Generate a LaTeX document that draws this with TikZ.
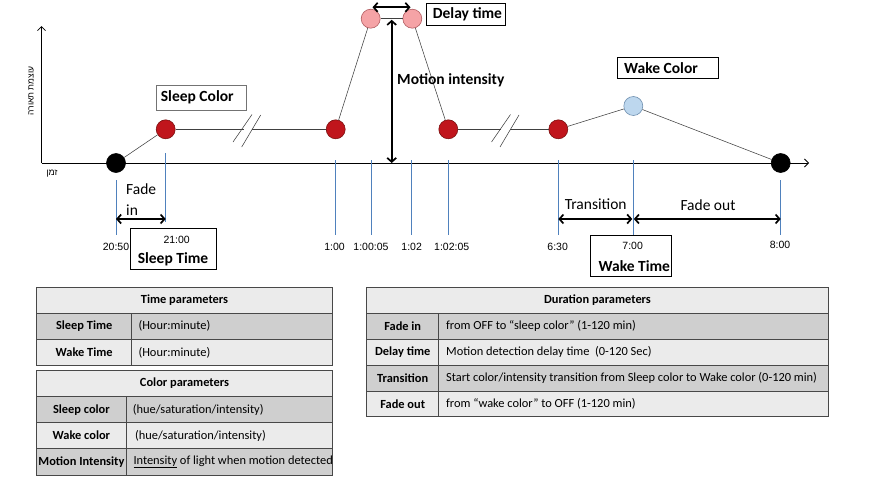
\documentclass[tikz,border=0pt]{standalone}
\usepackage{fontspec}
\setmainfont{Carlito}
\newfontfamily\arialf{Liberation Sans}
\newfontfamily\hebf[Script=Hebrew]{Liberation Sans}
\TeXXeTstate=1
\usetikzlibrary{arrows.meta}
\definecolor{dotred}{HTML}{C0151C}
\definecolor{dotredline}{HTML}{7A1010}
\definecolor{dotpink}{HTML}{F5A3A6}
\definecolor{dotpinkline}{HTML}{B05A5E}
\definecolor{dotblue}{HTML}{BDD7EE}
\definecolor{dotblueline}{HTML}{6F8FAF}
\definecolor{tickblue}{HTML}{4F81BD}
\definecolor{lightrow}{HTML}{EBEBEB}
\definecolor{darkrow}{HTML}{CFCFCF}
\definecolor{tablegray}{HTML}{484848}
\begin{document}
\begin{tikzpicture}[x=1pt,y=-1pt,
  dot/.style={circle, minimum size=19pt, inner sep=0pt, line width=0.6pt},
  blackdot/.style={dot, fill=black, draw=black},
  reddot/.style={dot, fill=dotred, draw=dotredline},
  pinkdot/.style={dot, fill=dotpink, draw=dotpinkline},
  bluedot/.style={dot, fill=dotblue, draw=dotblueline},
  conn/.style={draw=black!75, line width=0.55pt},
  axisline/.style={draw=black, line width=0.8pt},
  ticklne/.style={draw=tickblue, line width=0.6pt},
  darrow/.style={{Straight Barb[length=4pt,width=9pt]}-{Straight Barb[length=4pt,width=9pt]}, line width=1.7pt},
  tm/.style={font=\arialf\fontsize{10.5}{12}\selectfont, inner sep=0pt},
  bl/.style={font=\bfseries\fontsize{15.5}{18}\selectfont, inner sep=0pt},
  nl/.style={font=\fontsize{15.5}{21}\selectfont, inner sep=0pt},
  lblbox/.style={draw=black, line width=0.7pt, inner sep=0pt},
  hdr/.style={font=\bfseries\fontsize{12.4}{14}\selectfont, inner sep=0pt},
  cone/.style={font=\bfseries\fontsize{12.4}{14}\selectfont, inner sep=0pt},
  ctwo/.style={font=\fontsize{12.4}{14}\selectfont, inner sep=0pt, anchor=west},
  tline/.style={draw=tablegray, line width=1pt}
]
\useasboundingbox (0,0) rectangle (869,490);

% axes
\coordinate (O) at (41.5,163);
\coordinate (ytop) at (41.5,26);
\coordinate (xend) at (809,163);
\draw[axisline,-{Straight Barb[length=4pt,width=8pt,line width=0.8pt]}] (O) -- (ytop);
\draw[axisline,-{Straight Barb[length=4pt,width=8pt,line width=0.8pt]}] (O) -- (xend);
\node[font=\hebf\fontsize{8.5}{10}\selectfont, rotate=90, inner sep=0pt] (ylab) at (31,91) {\beginR עוצמת תאורה\endR};
\node[font=\hebf\fontsize{9}{10}\selectfont, inner sep=0pt] (xlab) at (52,173.5) {\beginR זמן\endR};

% tick lines
\draw[ticklne] (116,180) -- (116,235);
\draw[ticklne] (165.7,153) -- (165.7,222);
\draw[ticklne] (335.7,160) -- (335.7,235);
\draw[ticklne] (371,160) -- (371,235);
\draw[ticklne] (411.7,160) -- (411.7,235);
\draw[ticklne] (448.3,160) -- (448.3,235);
\draw[ticklne] (558.3,160) -- (558.3,235);
\draw[ticklne] (633,160) -- (633,235);
\draw[ticklne] (780.7,180) -- (780.7,235);

% dots
\node[blackdot] (b1) at (116,163) {};
\node[reddot] (r1) at (165.7,129.3) {};
\node[reddot] (r2) at (335.7,129.3) {};
\node[pinkdot] (p1) at (370.7,18.7) {};
\node[pinkdot] (p2) at (412.3,18.7) {};
\node[reddot] (r3) at (448.3,129.3) {};
\node[reddot] (r4) at (558.3,129.3) {};
\node[bluedot] (w1) at (633.3,106) {};
\node[blackdot] (b2) at (780.7,163) {};

% break marks
\coordinate (ba1) at (244,129.3);
\coordinate (bb1) at (252,129.3);
\coordinate (s1a) at (233,142);
\coordinate (s1b) at (252,114.5);
\coordinate (s2a) at (241.7,147);
\coordinate (s2b) at (260.7,115);
\coordinate (ba2) at (501,129.3);
\coordinate (bb2) at (510,129.3);
\coordinate (s3a) at (491.5,142);
\coordinate (s3b) at (510.5,114.5);
\coordinate (s4a) at (500,147);
\coordinate (s4b) at (519,115);

% connectors
\draw[conn] (b1) -- (r1);
\draw[conn] (r1) -- (ba1);
\draw[conn] (bb1) -- (r2);
\draw[conn] (s1a) -- (s1b);
\draw[conn] (s2a) -- (s2b);
\draw[conn] (r2) -- (p1);
\draw[conn] (p1) -- (p2);
\draw[conn] (p2) -- (r3);
\draw[conn] (r3) -- (ba2);
\draw[conn] (bb2) -- (r4);
\draw[conn] (s3a) -- (s3b);
\draw[conn] (s4a) -- (s4b);
\draw[conn] (r4) -- (w1);
\draw[conn] (w1) -- (b2);

% thick arrows
\coordinate (dl) at (372.5,7.3);
\coordinate (dr) at (410.5,7.3);
\draw[darrow] (dl) -- (dr);
\coordinate (mt) at (391.7,19.8);
\coordinate (mb) at (391.7,163);
\draw[darrow] (mt) -- (mb);
\coordinate (fa) at (116,219);
\coordinate (fb) at (165.7,219);
\draw[darrow] (fa) -- (fb);
\coordinate (ta) at (558.3,219);
\coordinate (tb) at (632.3,219);
\draw[darrow] (ta) -- (tb);
\coordinate (oa) at (633.8,219);
\coordinate (ob) at (780.7,219);
\draw[darrow] (oa) -- (ob);

% labels
\node[lblbox, draw=black!55, minimum width=90pt, minimum height=24.7pt] (scbox) at (201,97.7) {};
\node[bl, anchor=west] (sc) at (160.7,97.5) {Sleep Color};
\node[lblbox, minimum width=79.3pt, minimum height=22pt] (dtbox) at (465.7,14.3) {};
\node[bl, anchor=west] (dt) at (432.7,14.5) {Delay time};
\node[bl, anchor=west] (mi) at (397,80) {Motion intensity};
\node[lblbox, minimum width=100.7pt, minimum height=21.4pt] (wcbox) at (667.7,68) {};
\node[bl, anchor=west] (wc) at (624,68.5) {Wake Color};

\node[lblbox, minimum width=86.7pt, minimum height=41pt] (stbox) at (173.3,248.8) {};
\node[tm] (t2100) at (176.7,240) {21:00};
\node[bl] (st) at (173,259.5) {Sleep Time};
\node[lblbox, minimum width=81.4pt, minimum height=41.7pt] (wtbox) at (631,255.8) {};
\node[tm] (t700) at (632.7,246) {7:00};
\node[bl] (wt) at (634.3,266) {Wake Time};

\node[tm] (t2050) at (116,247) {20:50};
\node[tm] (t100) at (334.5,247) {1:00};
\node[tm] (t10005) at (371,247) {1:00:05};
\node[tm] (t102) at (411.7,247) {1:02};
\node[tm] (t10205) at (451.7,247) {1:02:05};
\node[tm] (t630) at (557.7,246.5) {6:30};
\node[tm] (t800) at (780,245.3) {8:00};

\node[nl, anchor=west, align=left] (fadein) at (126,199.5) {Fade\\in};
\node[nl] (trans) at (595.7,204) {Transition};
\node[nl] (fadeout) at (708,205.5) {Fade out};

% table 1: time parameters
\fill[lightrow] (36.7,287.3) rectangle (332.3,313.3);
\fill[darkrow] (36.7,313.3) rectangle (332.3,339.3);
\fill[lightrow] (36.7,339.3) rectangle (332.3,365.7);
\draw[tline] (36.7,287.3) rectangle (332.3,365.7);
\draw[tline] (36.7,313.3) -- (332.3,313.3) (36.7,339.3) -- (332.3,339.3) (131.7,313.3) -- (131.7,365.7);
\node[hdr] (th1) at (184.5,300.3) {Time parameters};
\node[cone] (th1a) at (84.2,326.3) {Sleep Time};
\node[ctwo] (th1b) at (138.3,326.3) {(Hour:minute)};
\node[cone] (th1c) at (84.2,352.5) {Wake Time};
\node[ctwo] (th1d) at (138.3,352.5) {(Hour:minute)};

% table 2: color parameters
\fill[lightrow] (36.7,370) rectangle (332.3,396.7);
\fill[darkrow] (36.7,396.7) rectangle (332.3,422.7);
\fill[lightrow] (36.7,422.7) rectangle (332.3,448.3);
\fill[darkrow] (36.7,448.3) rectangle (332.3,475);
\draw[tline] (36.7,370) rectangle (332.3,475);
\draw[tline] (36.7,396.7) -- (332.3,396.7) (36.7,422.7) -- (332.3,422.7) (36.7,448.3) -- (332.3,448.3) (126,396.7) -- (126,475);
\node[hdr] (th2) at (184.5,383.3) {Color parameters};
\node[cone] (th2a) at (81.4,409.7) {Sleep color};
\node[ctwo] (th2b) at (132.7,409.7) {(hue/saturation/intensity)};
\node[cone] (th2c) at (81.4,435.5) {Wake color};
\node[ctwo] (th2d) at (135,435.5) {(hue/saturation/intensity)};
\node[cone] (th2e) at (81.4,461.7) {Motion Intensity};
\node[ctwo] (th2f) at (133.3,461.7) {\underline{Intensity} of light when motion detected};

% table 3: duration parameters
\fill[lightrow] (366.7,287.3) rectangle (828.3,313.3);
\fill[darkrow] (366.7,313.3) rectangle (828.3,339.3);
\fill[lightrow] (366.7,339.3) rectangle (828.3,365.3);
\fill[darkrow] (366.7,365.3) rectangle (828.3,391);
\fill[lightrow] (366.7,391) rectangle (828.3,416.7);
\draw[tline] (366.7,287.3) rectangle (828.3,416.7);
\draw[tline] (366.7,313.3) -- (828.3,313.3) (366.7,339.3) -- (828.3,339.3) (366.7,365.3) -- (828.3,365.3) (366.7,391) -- (828.3,391) (438.7,313.3) -- (438.7,416.7);
\node[hdr] (th3) at (597.5,300.3) {Duration parameters};
\node[cone] (th3a) at (402.7,326.3) {Fade in};
\node[ctwo] (th3b) at (446,326.3) {from OFF to “sleep color” (1-120 min)};
\node[cone] (th3c) at (402.7,352.3) {Delay time};
\node[ctwo] (th3d) at (446,352.3) {Motion detection delay time \ (0-120 Sec)};
\node[cone] (th3e) at (402.7,378.2) {Transition};
\node[ctwo] (th3f) at (446,378.2) {Start color/intensity transition from Sleep color to Wake color (0-120 min)};
\node[cone] (th3g) at (402.7,403.8) {Fade out};
\node[ctwo] (th3h) at (446,403.8) {from “wake color” to OFF (1-120 min)};
\end{tikzpicture}
\end{document}
